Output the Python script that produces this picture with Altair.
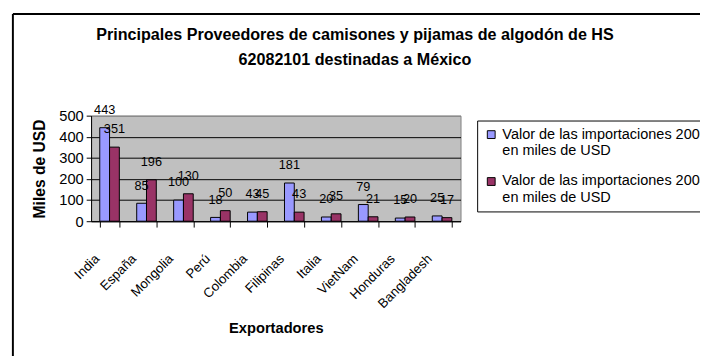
import altair as alt
import pandas as pd

countries = ["India", "España", "Mongolia", "Perú", "Colombia", "Filipinas",
             "Italia", "VietNam", "Honduras", "Bangladesh"]
series_names = ["Valor de las importaciones 2003\nen miles de USD",
                "Valor de las importaciones 2004\nen miles de USD"]
values_2003 = [443, 85, 100, 18, 43, 181, 20, 79, 15, 25]
values_2004 = [351, 196, 130, 50, 45, 43, 35, 21, 20, 17]
colors = ["#9999FF", "#993366"]
y_ticks = [0, 100, 200, 300, 400, 500]

rows = []
for c, a, b in zip(countries, values_2003, values_2004):
    rows.append({"Exportador": c, "Serie": series_names[0], "Valor": a})
    rows.append({"Exportador": c, "Serie": series_names[1], "Valor": b})
df = pd.DataFrame(rows)

FONT = "Liberation Sans"

x_enc = alt.X(
    "Exportador:N", sort=countries,
    scale=alt.Scale(paddingInner=0.47, paddingOuter=0.235),
    axis=alt.Axis(
        title="Exportadores", titleFontSize=15, titleFontWeight="bold",
        titleColor="black", titlePadding=11,
        labelAngle=-45, labelAlign="right", labelBaseline="middle",
        labelFontSize=13.5, labelColor="black", labelPadding=30, labelOffset=-13,
        labelOverlap=False,
        tickBand="extent", tickColor="black", tickSize=6, domainColor="black",
        grid=False,
    ),
)
xo_enc = alt.XOffset("Serie:N", sort=series_names)
y_enc = alt.Y(
    "Valor:Q",
    scale=alt.Scale(domain=[0, 500], nice=False),
    axis=alt.Axis(
        title="Miles de USD", titleFontSize=16, titleFontWeight="bold",
        titleColor="black", titlePadding=12,
        values=y_ticks, tickCount=6, labelFontSize=15, labelColor="black",
        labelPadding=3, labelOverlap=False, labelFlush=False,
        tickColor="black", tickSize=5, domainColor="black",
        grid=True, gridWidth=1,
        gridColor={"condition": {"test": "datum.value < 500", "value": "black"}, "value": "#808080"},
    ),
)

bars = alt.Chart(df).mark_bar(stroke="black", strokeWidth=1).encode(
    x=x_enc, xOffset=xo_enc, y=y_enc,
    color=alt.Color(
        "Serie:N", sort=series_names,
        scale=alt.Scale(domain=series_names, range=colors),
        legend=alt.Legend(
            title=None, orient="none", legendX=395, legendY=5,
            fillColor="white", strokeColor="black", padding=7,
            labelFontSize=14.8, labelColor="black", labelLimit=0,
            labelExpr="split(datum.label, '\\n')",
            symbolType="square", symbolSize=64, symbolStrokeColor="black",
            symbolStrokeWidth=1, rowPadding=16,
        ),
    ),
)

labels = alt.Chart(df).mark_text(
    fontSize=13, color="black", dy=-18, baseline="middle"
).encode(x=x_enc, xOffset=xo_enc, y=y_enc, text="Valor:Q")

frame_df = pd.DataFrame({"k": [0]})
frame_left = alt.Chart(frame_df).mark_rule(color="black", strokeWidth=2).encode(
    x=alt.value(-80), y=alt.value(-104), y2=alt.value(400))
frame_top = alt.Chart(frame_df).mark_rule(color="black", strokeWidth=2).encode(
    x=alt.value(-80), x2=alt.value(720), y=alt.value(-104))

chart = alt.layer(bars, labels, frame_left, frame_top).properties(
    width=378, height=108,
    title=alt.Title(
        ["Principales Proveedores de camisones y pijamas de algodón de HS",
         "62082101 destinadas a México"],
        fontSize=16.5, fontWeight="bold", color="black", anchor="middle",
        dx=81, lineHeight=26, offset=-57,
    ),
    autosize=alt.AutoSizeParams(type="none"),
    padding={"left": 85, "top": 105, "right": 245, "bottom": 232},
).configure(font=FONT).configure_view(
    fill="#C0C0C0", stroke="#808080", strokeWidth=1
).configure_axis(labelFont=FONT, titleFont=FONT).configure_legend(
    labelFont=FONT, strokeWidth=1
).configure_title(font=FONT)

chart.save("out.html", embed_options={"renderer": "svg", "actions": False})
